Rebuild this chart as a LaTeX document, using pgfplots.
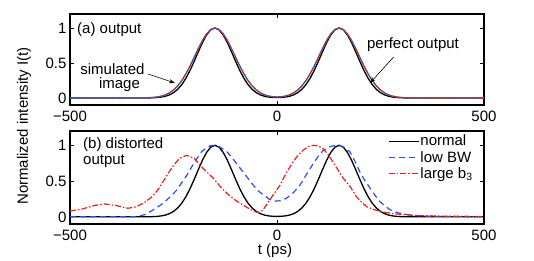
\documentclass[border=0pt]{standalone}
\usepackage{fontspec}
\setmainfont{Liberation Sans}
\usepackage{pgfplots}
\pgfplotsset{compat=1.18}
\usepackage{pgfplotstable}
\usetikzlibrary{arrows.meta}
\definecolor{mblue}{RGB}{40,80,240}
\definecolor{mred}{RGB}{235,30,30}
\definecolor{mgreen}{RGB}{40,170,40}

\pgfplotstableread{
t I
-500 0
-340 0
-330 0.0002
-320 0.0006
-310 0.0013
-300 0.0030
-290 0.0063
-280 0.0127
-270 0.0243
-260 0.0439
-250 0.0756
-240 0.1234
-230 0.1915
-220 0.2821
-210 0.3946
-200 0.5243
-190 0.6615
-180 0.7926
-170 0.9018
-160 0.9745
-150 1.0
-140 0.9745
-130 0.9018
-120 0.7926
-110 0.6615
-100 0.5243
-90 0.3946
-80 0.2821
-70 0.1915
-60 0.1234
-50 0.0757
-40 0.0440
-30 0.0245
-20 0.0133
-10 0.0076
0 0.0060
10 0.0076
20 0.0133
30 0.0245
40 0.0440
50 0.0757
60 0.1234
70 0.1915
80 0.2821
90 0.3946
100 0.5243
110 0.6615
120 0.7926
130 0.9018
140 0.9745
150 1.0
160 0.9745
170 0.9018
180 0.7926
190 0.6615
200 0.5243
210 0.3946
220 0.2821
230 0.1915
240 0.1234
250 0.0756
260 0.0439
270 0.0243
280 0.0127
290 0.0063
300 0.0030
310 0.0013
320 0.0006
330 0.0002
340 0
500 0
}\normaldata

\pgfplotstableread{
t I
-500 0
-350 0
-340 0.0004
-330 0.0009
-320 0.0019
-310 0.0039
-300 0.0076
-290 0.0142
-280 0.0255
-270 0.0439
-260 0.0724
-250 0.1141
-240 0.1724
-230 0.2494
-220 0.3453
-210 0.4578
-200 0.5813
-190 0.7067
-180 0.8226
-170 0.9169
-160 0.9785
-150 1.0
-140 0.9785
-130 0.9169
-120 0.8226
-110 0.7067
-100 0.5813
-90 0.4578
-80 0.3453
-70 0.2494
-60 0.1724
-50 0.1143
-40 0.0728
-30 0.0448
-20 0.0274
-10 0.0181
0 0.0152
10 0.0181
20 0.0274
30 0.0448
40 0.0728
50 0.1143
60 0.1724
70 0.2494
80 0.3453
90 0.4578
100 0.5813
110 0.7067
120 0.8226
130 0.9169
140 0.9785
150 1.0
160 0.9785
170 0.9169
180 0.8226
190 0.7067
200 0.5813
210 0.4578
220 0.3453
230 0.2494
240 0.1724
250 0.1141
260 0.0724
270 0.0439
280 0.0255
290 0.0142
300 0.0076
310 0.0039
320 0.0019
330 0.0009
340 0.0004
350 0
500 0
}\simdata

\pgfplotstableread{
t I
-500 0
-340 0
-320 0.03
-307 0.07
-290 0.13
-275 0.19
-258 0.28
-242 0.375
-230 0.48
-218 0.58
-206 0.70
-194 0.81
-182 0.91
-170 0.97
-160 0.995
-150 1.0
-136 0.97
-121 0.91
-105 0.80
-89 0.68
-73 0.56
-57 0.44
-45 0.36
-33 0.31
-20 0.25
-5 0.22
8 0.225
23 0.26
40 0.34
55 0.44
72 0.60
88 0.75
100 0.85
112 0.93
125 0.975
138 0.995
150 1.0
163 0.97
176 0.91
188 0.78
200 0.63
212 0.51
225 0.40
237 0.30
249 0.21
261 0.15
273 0.10
290 0.06
305 0.04
330 0.02
360 0.01
400 0.005
500 0
}\lowbwdata

\pgfplotstableread{
t I
-500 0.08
-470 0.11
-440 0.16
-415 0.18
-390 0.16
-360 0.12
-340 0.14
-320 0.20
-300 0.29
-285 0.40
-266 0.58
-250 0.72
-235 0.82
-218 0.86
-200 0.82
-186 0.72
-170 0.63
-154 0.54
-138 0.43
-121 0.33
-105 0.25
-89 0.19
-72 0.13
-57 0.08
-45 0.06
-35 0.09
-25 0.17
-10 0.30
7 0.44
23 0.62
39 0.77
52 0.87
63 0.93
75 0.98
88 1.0
100 0.99
112 0.95
125 0.86
137 0.75
150 0.63
160 0.54
177 0.42
192 0.28
205 0.20
217 0.14
235 0.10
257 0.065
289 0.04
330 0.02
400 0.01
500 0.005
}\largebdata

\pgfplotsset{
  myaxis/.style={
    scale only axis, width=414bp,
    xmin=-500, xmax=500, ymin=-0.1, ymax=1.2,
    xtick={-500,0,500}, xticklabels={−500,0,500},
    ytick={0,0.5,1}, yticklabels={0,0.5,1},
    tick align=inside, major tick length=4bp,
    axis line style={line width=1.6bp},
    every tick/.style={black, line width=0.9bp},
    tick label style={font=\fontsize{15bp}{18bp}\selectfont},
    xticklabel style={inner sep=1bp, yshift=-5bp},
    anchor=south west,
  },
}

\begin{document}
\begin{tikzpicture}[font=\fontsize{15bp}{18bp}\selectfont]
\path[use as bounding box] (0,0) rectangle (534bp,261bp);

\begin{axis}[myaxis, height=91bp, at={(70bp,156bp)}]
\addplot[black, line width=1.3bp] table[x=t,y=I] {\normaldata};
\addplot[mgreen, line width=1.1bp] table[x=t,y=I] {\simdata};
\addplot[mblue, line width=1.2bp, dash pattern=on 3bp off 3bp] table[x=t,y=I] {\simdata};
\addplot[mred, line width=1.2bp, dash pattern=on 3bp off 3bp, dash phase=3bp] table[x=t,y=I] {\simdata};
\end{axis}

\begin{axis}[myaxis, height=93bp, at={(70bp,37bp)},
  legend style={draw=none, fill=none, at={(0.768,0.97)}, anchor=north west,
    font=\fontsize{15bp}{18bp}\selectfont, inner sep=0pt, row sep=2bp,
    nodes={inner sep=1bp}},
  legend cell align=left,
  legend image code/.code={\draw[#1] (0bp,0bp) -- (30bp,0bp);}]
\addplot[black, line width=1.3bp] table[x=t,y=I] {\normaldata};
\addlegendentry{normal}
\addplot[mblue, line width=1.2bp, dash pattern=on 6bp off 4bp] table[x=t,y=I] {\lowbwdata};
\addlegendentry{low BW}
\addplot[mred, line width=1.2bp, dash pattern=on 6bp off 2bp on 1.5bp off 2bp] table[x=t,y=I] {\largebdata};
\addlegendentry{large b\textsubscript{3}}
\end{axis}

% annotations
\node[anchor=base west, inner sep=0pt] at (77bp,227.7bp) {(a) output};
\node[anchor=base, inner sep=0pt] at (112.5bp,186bp) {simulated};
\node[anchor=base, inner sep=0pt] at (119.5bp,172bp) {image};
\node[anchor=base, inner sep=0pt] at (413bp,212.7bp) {perfect output};
\draw[line width=0.6bp, -{Stealth[length=6bp,width=4bp]}] (148bp,187bp) -- (175bp,178bp);
\draw[line width=0.6bp, -{Stealth[length=6bp,width=4bp]}] (393.7bp,204bp) -- (370bp,178bp);
\node[anchor=base west, inner sep=0pt] at (83bp,112.7bp) {(b) distorted};
\node[anchor=base west, inner sep=0pt] at (83bp,96bp) {output};
\node[rotate=90, inner sep=0pt] at (24bp,135bp) {Normalized intensity I(t)};
\node[inner sep=0pt] at (275bp,10bp) {t (ps)};
\end{tikzpicture}
\end{document}
